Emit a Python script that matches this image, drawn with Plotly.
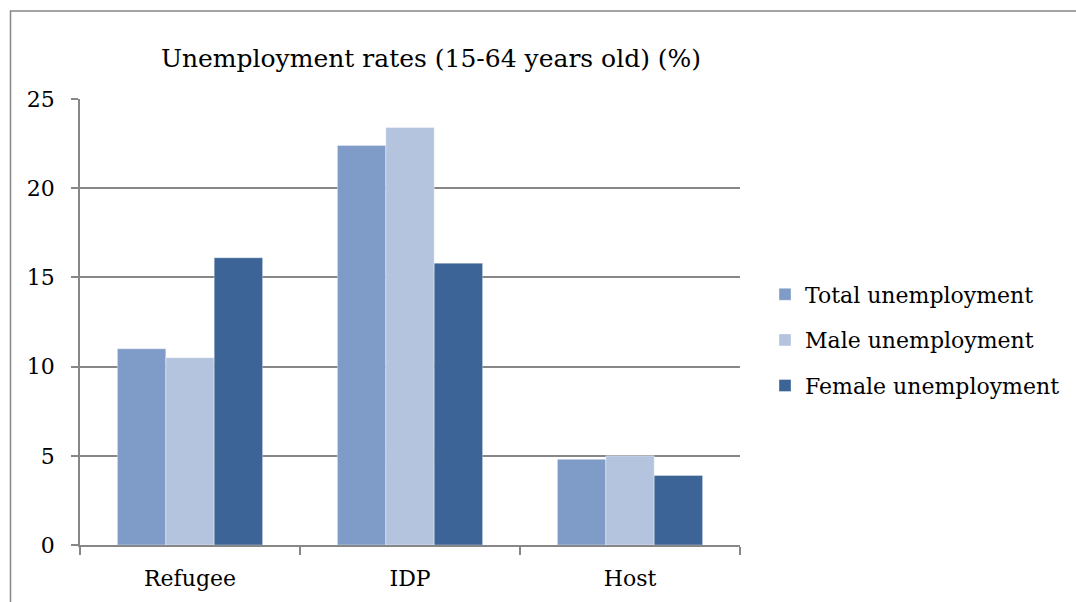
import plotly.graph_objects as go

# Unemployment rates by population group (15-64 years old), in percent
categories = ["Refugee", "IDP", "Host"]
total_unemployment = [11.0, 22.4, 4.8]
male_unemployment = [10.5, 23.4, 5.0]
female_unemployment = [16.1, 15.8, 3.9]

series = [
    ("Total unemployment", total_unemployment, "#7F9CC8"),
    ("Male unemployment", male_unemployment, "#B4C4DF"),
    ("Female unemployment", female_unemployment, "#3C6496"),
]

FONT = "DejaVu Serif"
GRID = "#878787"

fig = go.Figure()
for i, (name, values, color) in enumerate(series):
    fig.add_trace(go.Bar(
        x=categories,
        y=values,
        name=name,
        legendgroup=f"g{i}",
        marker=dict(color=color, line=dict(color="rgba(255,255,255,0.6)", width=0.6)),
    ))

# plot area spans x 80..740 px and y 99..545 px
L, R, T, B = 80, 336, 99, 57
W, H = 1076, 602
pw, ph = W - L - R, H - T - B

fig.update_layout(
    width=W,
    height=H,
    margin=dict(l=L, r=R, t=T, b=B, autoexpand=False),
    paper_bgcolor="white",
    plot_bgcolor="white",
    barmode="group",
    bargap=0.34,
    bargroupgap=0,
    font=dict(family=FONT, size=22, color="#000000"),
    title=dict(
        text="Unemployment rates (15-64 years old) (%)",
        x=(431 - L) / pw,
        xref="paper",
        xanchor="center",
        y=1 - 58 / H,
        yref="container",
        yanchor="middle",
        font=dict(family=FONT, size=25, color="#000000"),
    ),
    legend=dict(
        x=(765 - L) / pw,
        y=(545 - 340) / ph,
        xanchor="left",
        yanchor="middle",
        traceorder="grouped",
        tracegroupgap=14,
        font=dict(family=FONT, size=22, color="#000000"),
        bgcolor="rgba(0,0,0,0)",
    ),
    showlegend=True,
    xaxis=dict(
        type="category",
        showline=True,
        linecolor=GRID,
        linewidth=1.5,
        ticks="outside",
        tickson="boundaries",
        ticklen=8,
        tickcolor=GRID,
        tickwidth=1.5,
        showgrid=False,
        ticklabelstandoff=13,
        tickfont=dict(family=FONT, size=22),
    ),
    yaxis=dict(
        range=[0, 25],
        dtick=5,
        showline=True,
        linecolor=GRID,
        linewidth=1.5,
        ticks="outside",
        ticklen=7,
        tickcolor=GRID,
        tickwidth=1.5,
        showgrid=True,
        gridcolor=GRID,
        gridwidth=1.5,
        zeroline=False,
        ticklabelstandoff=12,
        tickfont=dict(family=FONT, size=22),
    ),
    shapes=[
        dict(
            type="rect",
            xref="paper",
            yref="paper",
            x0=(10.5 - L) / pw,
            x1=2.0,
            y0=-1.0,
            y1=(545 - 11) / ph,
            line=dict(color=GRID, width=1.5),
            fillcolor="rgba(0,0,0,0)",
            layer="below",
        )
    ],
)

fig.write_html("out.html")
